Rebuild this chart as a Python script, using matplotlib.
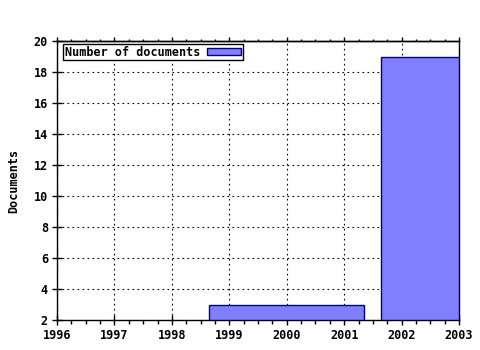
import matplotlib
matplotlib.use("Agg")
import matplotlib.pyplot as plt
from matplotlib.ticker import MultipleLocator

years = [2000, 2003]
documents = [3, 19]
x_ticks = [1996, 1997, 1998, 1999, 2000, 2001, 2002, 2003]
y_ticks = [2, 4, 6, 8, 10, 12, 14, 16, 18, 20]

plt.rcParams['font.family'] = ['DejaVu Sans Mono']
plt.rcParams['font.weight'] = 'bold'

fig = plt.figure(figsize=(4.8, 3.5), dpi=100)
ax = fig.add_axes([57/480, 1-320/350, (459-57)/480, (320-41)/350])

ax.bar(years, documents, width=2.7, bottom=0, color='#8080ff', edgecolor='#000080',
       linewidth=1, label='Number of documents', zorder=2)

ax.set_xlim(1996, 2003)
ax.set_ylim(2, 20)
ax.set_xticks(x_ticks)
ax.set_xticklabels([str(v) for v in x_ticks], fontsize=8.5, fontweight='bold')
ax.set_yticks(y_ticks)
ax.set_yticklabels([str(v) for v in y_ticks], fontsize=8.5, fontweight='bold')
ax.xaxis.set_minor_locator(MultipleLocator(0.25))

ax.grid(True, which='major', color='black', linestyle=(0, (1.5, 3)), linewidth=0.8, zorder=1)
ax.set_axisbelow(True)

ax.tick_params(axis='x', which='major', direction='inout', length=7, width=1, top=False, pad=3)
ax.tick_params(axis='x', which='minor', direction='out', length=3, width=1, top=False)
ax.tick_params(axis='y', which='major', direction='inout', length=7, width=1, pad=3)
for s in ax.spines.values():
    s.set_linewidth(1)
    s.set_color('black')

top = ax.secondary_xaxis('top')
top.set_xticks(x_ticks)
top.xaxis.set_minor_locator(MultipleLocator(0.25))
top.tick_params(which='major', direction='out', length=3, width=1, labeltop=False)
top.tick_params(which='minor', direction='out', length=1.5, width=1)
top.spines['top'].set_linewidth(1)

ax.set_ylabel('Documents', fontsize=8.5, fontweight='bold', labelpad=10)

leg = ax.legend(loc='upper left', markerfirst=False, frameon=True, fancybox=False,
                prop={'family': 'DejaVu Sans Mono', 'weight': 'bold', 'size': 8.5},
                borderpad=0.15, handlelength=2.9, handleheight=0.5, handletextpad=0.6,
                borderaxespad=0.0, bbox_to_anchor=(0.015, 0.99))
leg.get_frame().set_edgecolor('black')
leg.get_frame().set_linewidth(1)
leg.get_frame().set_alpha(1)

fig.savefig('out.png', dpi=100)
